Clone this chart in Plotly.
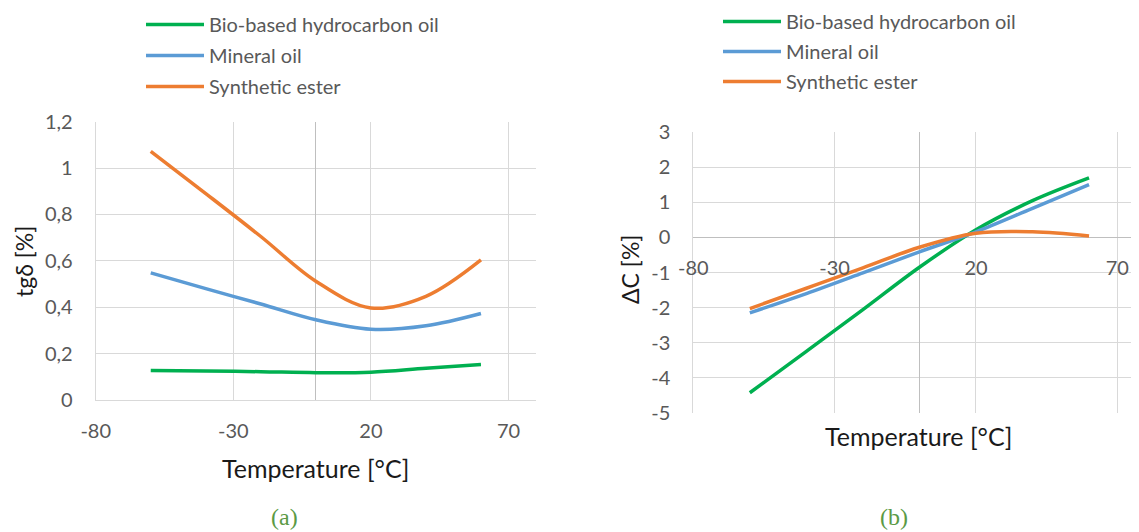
import plotly.graph_objects as go

# ---- data ----
temps = [-60, -40, -20, 0, 20, 40, 60]

tg_bio = [0.127, 0.125, 0.122, 0.118, 0.120, 0.137, 0.153]
tg_mineral = [0.548, 0.480, 0.414, 0.346, 0.305, 0.320, 0.373]
tg_ester = [1.072, 0.890, 0.705, 0.512, 0.397, 0.447, 0.604]

dc_bio = [-4.43, -3.25, -2.06, -0.85, 0.22, 1.05, 1.70]
dc_mineral = [-2.15, -1.60, -1.01, -0.41, 0.16, 0.83, 1.51]
dc_ester = [-2.03, -1.45, -0.87, -0.28, 0.12, 0.16, 0.04]

series_names = ["Bio-based hydrocarbon oil", "Mineral oil", "Synthetic ester"]
series_colors = ["#00B050", "#5B9BD5", "#ED7D31"]

x_tickvals = [-80, -30, 20, 70]
x_ticktext = ["-80", "-30", "20", "70"]
tg_tickvals = [0, 0.2, 0.4, 0.6, 0.8, 1.0, 1.2]
tg_ticktext = ["0", "0,2", "0,4", "0,6", "0,8", "1", "1,2"]
dc_tickvals = [-5, -4, -3, -2, -1, 0, 1, 2, 3]
dc_ticktext = ["-5", "-4", "-3", "-2", "-1", "0", "1", "2", "3"]

W, H = 1139, 532
OFF = 8  # page body margin
FONT = "Lato"
TICK_COLOR = "#595959"
GRID = "#D9D9D9"
ZERO = "#BFBFBF"


def fx(p):
    return (p - OFF) / W


def fy(p):
    return 1 - (p - OFF) / H


fig = go.Figure()

for i, (name, vals, col) in enumerate(zip(series_names, [tg_bio, tg_mineral, tg_ester], series_colors)):
    fig.add_trace(go.Scatter(x=temps, y=vals, mode="lines", name=name,
                             line=dict(color=col, width=3.5, shape="spline"),
                             legendgroup=f"a{i}",
                             xaxis="x", yaxis="y", legend="legend"))

for i, (name, vals, col) in enumerate(zip(series_names, [dc_bio, dc_mineral, dc_ester], series_colors)):
    fig.add_trace(go.Scatter(x=temps, y=vals, mode="lines", name=name,
                             line=dict(color=col, width=3.5, shape="spline"),
                             legendgroup=f"b{i}",
                             xaxis="x2", yaxis="y2", legend="legend2"))

y2_dom = [fy(412.7), fy(132.3)]
zero_pos = y2_dom[0] + (0 - (-5)) / 8 * (y2_dom[1] - y2_dom[0])

tickfont = dict(family=FONT, size=20, color=TICK_COLOR)
common = dict(showgrid=True, gridcolor=GRID, gridwidth=1, ticks="",
              fixedrange=True, automargin=False, tickfont=tickfont)

x2_px_per_unit = (1117.3 - 693.3) / 150.0
x2_end = fx(693.3 + 160 * x2_px_per_unit)

legend_font = dict(family=FONT, size=20, color=TICK_COLOR)


def ann(text, x, y, size, color="#1a1a1a", family=FONT, angle=0):
    return dict(text=text, x=fx(x), y=fy(y), xref="paper", yref="paper",
                xanchor="center", yanchor="middle", showarrow=False,
                textangle=angle, font=dict(family=family, size=size, color=color))


fig.update_layout(
    width=W, height=H,
    margin=dict(l=0, r=0, t=0, b=0, autoexpand=False),
    paper_bgcolor="white", plot_bgcolor="white",
    showlegend=True,
    xaxis=dict(domain=[fx(95.7), fx(536)], range=[-80, 80], anchor="y",
               tickvals=x_tickvals, ticktext=x_ticktext,
               zeroline=True, zerolinecolor=ZERO, zerolinewidth=1,
               showline=True, linecolor=GRID, linewidth=1,
               ticklabelstandoff=13, **common),
    yaxis=dict(domain=[fy(400), fy(121.7)], range=[0, 1.2], anchor="x",
               tickvals=tg_tickvals, ticktext=tg_ticktext,
               zeroline=False, showline=True, linecolor=GRID, linewidth=1,
               ticklabelstandoff=18, **common),
    xaxis2=dict(domain=[fx(693.3), min(1.0, x2_end)], range=[-80, 80], anchor="free",
                position=zero_pos,
                tickvals=x_tickvals, ticktext=x_ticktext,
                zeroline=True, zerolinecolor=ZERO, zerolinewidth=1,
                showline=False, ticklabelstandoff=17, **common),
    yaxis2=dict(domain=y2_dom, range=[-5, 3], anchor="x2",
                tickvals=dc_tickvals, ticktext=dc_ticktext,
                zeroline=True, zerolinecolor=ZERO, zerolinewidth=1,
                showline=True, linecolor=GRID, linewidth=1,
                ticklabelstandoff=18, **common),
    legend=dict(x=fx(141), y=fy(5), xanchor="left", yanchor="top",
                font=legend_font, itemwidth=58,
                bgcolor="rgba(0,0,0,0)", tracegroupgap=2),
    legend2=dict(x=fx(718), y=fy(2), xanchor="left", yanchor="top",
                 font=legend_font, itemwidth=58,
                 bgcolor="rgba(0,0,0,0)", tracegroupgap=1),
    annotations=[
        ann("tgδ [%]", 24, 262, 23, angle=-90),
        ann("Temperature [°C]", 315, 468, 25),
        ann("ΔC [%]", 630, 270, 23, angle=-90),
        ann("Temperature [°C]", 918, 436, 25),
        ann("(a)", 284, 517, 24, color="#5B9A45", family="Liberation Serif"),
        ann("(b)", 894, 517, 24, color="#5B9A45", family="Liberation Serif"),
    ],
)

fig.write_html("out.html")
